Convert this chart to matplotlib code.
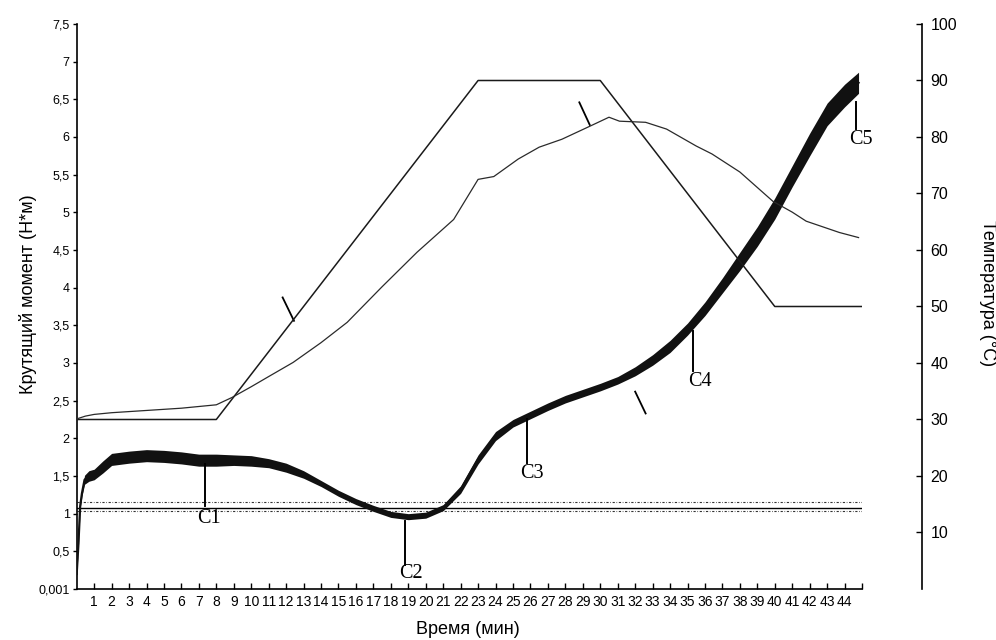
import matplotlib
matplotlib.use('Agg')
import matplotlib.pyplot as plt
import numpy as np

plt.rcParams['font.family'] = ['Liberation Sans', 'DejaVu Sans']

# torque curve (N*m) vs time (min): centre of the noisy trace and its half-width
torque_t = [0.0, 0.1, 0.2, 0.3, 0.45, 0.7, 1.0, 1.5, 2.0, 3.0, 4.0, 5.0, 6.0, 7.0, 8.0,
            9.0, 10.0, 11.0, 12.0, 13.0, 14.0, 15.0, 16.0, 17.0, 18.0, 19.0, 20.0,
            21.0, 22.0, 23.0, 24.0, 25.0, 26.0, 27.0, 28.0, 29.0, 30.0, 31.0, 32.0,
            33.0, 34.0, 35.0, 36.0, 37.0, 38.0, 39.0, 40.0, 41.0, 42.0, 43.0, 44.0, 44.8]
torque = [0.2, 0.6, 1.1, 1.27, 1.45, 1.5, 1.52, 1.62, 1.72, 1.75, 1.77, 1.76, 1.74, 1.71, 1.71,
          1.71, 1.70, 1.67, 1.61, 1.52, 1.40, 1.27, 1.16, 1.07, 0.99, 0.96, 0.98,
          1.08, 1.32, 1.72, 2.03, 2.20, 2.31, 2.42, 2.52, 2.60, 2.68, 2.77, 2.89,
          3.04, 3.22, 3.45, 3.72, 4.03, 4.35, 4.68, 5.05, 5.48, 5.90, 6.30, 6.55, 6.72]
torque_spread = [0.03, 0.03, 0.03, 0.04, 0.06, 0.07, 0.07, 0.08, 0.08, 0.08, 0.08, 0.08, 0.08, 0.08, 0.08,
                 0.07, 0.07, 0.06, 0.06, 0.05, 0.04, 0.04, 0.04, 0.04, 0.04, 0.04, 0.04,
                 0.04, 0.05, 0.06, 0.06, 0.05, 0.05, 0.05, 0.05, 0.05, 0.05, 0.05, 0.06,
                 0.07, 0.08, 0.08, 0.09, 0.10, 0.12, 0.13, 0.14, 0.14, 0.15, 0.15, 0.15, 0.14]

# temperature programme (set point), deg C
setpoint_t = [0, 8, 23, 30, 40, 45]
setpoint = [30, 30, 90, 90, 50, 50]

# measured stock temperature, deg C
temp_t = [0, 0.5, 1, 2, 4, 6, 8, 8.9, 10, 11, 12.4, 14, 15.5, 17.5, 19.5, 21.6, 23.0,
          23.9, 25.3, 26.5, 27.8, 29.4, 30.5, 31.1, 32.6, 33.8, 35.5, 36.4, 38.0,
          39.9, 41.0, 41.8, 43.7, 44.8]
temp = [30.1, 30.6, 30.9, 31.2, 31.6, 32.0, 32.6, 33.9, 35.8, 37.6, 40.1, 43.6, 47.2,
        53.5, 59.6, 65.4, 72.5, 73.0, 76.1, 78.2, 79.6, 81.9, 83.5, 82.8, 82.6, 81.4,
        78.4, 77.0, 73.8, 68.6, 66.7, 65.1, 63.1, 62.2]

# reference torque levels
ref_level = 1.08
ref_band = [1.035, 1.15]

# characteristic points: name, time, top/bottom of leader, label position
points = ['C1', 'C2', 'C3', 'C4', 'C5']
point_t = [7.35, 18.83, 25.8, 35.3, 44.67]
lead_top = [1.66, 0.90, 2.25, 3.42, 6.46]
lead_bot = [1.10, 0.32, 1.67, 2.89, 6.10]
label_x = [7.6, 19.15, 26.1, 35.7, 44.95]
label_y = [0.93, 0.20, 1.53, 2.75, 5.97]

# short strokes marking each curve
strokes = [((11.8, 3.87), (12.45, 3.56)),
           ((28.8, 6.46), (29.4, 6.16)),
           ((32.0, 2.62), (32.6, 2.33))]

left_ticks = [0.001, 0.5, 1, 1.5, 2, 2.5, 3, 3.5, 4, 4.5, 5, 5.5, 6, 6.5, 7, 7.5]
left_labels = ['0,001', '0,5', '1', '1,5', '2', '2,5', '3', '3,5', '4', '4,5',
               '5', '5,5', '6', '6,5', '7', '7,5']
right_ticks = [10, 20, 30, 40, 50, 60, 70, 80, 90, 100]
x_ticks = list(range(1, 46))
x_labels = [str(i) for i in range(1, 45)] + ['']

fig = plt.figure(figsize=(9.96, 6.4), dpi=100)
ax = fig.add_axes([0.077, 0.0797, 0.7885, 0.8828])
ax2 = ax.twinx()

tq = np.array(torque)
sp = np.array(torque_spread)
ax.fill_between(torque_t, tq - sp, tq + sp, color='#111111', lw=0, zorder=3)
ax.plot(torque_t, torque, color='#111111', lw=1.6, zorder=3)

ax.axhline(ref_level, color='black', lw=1.0, zorder=2)
for lv in ref_band:
    ax.axhline(lv, color='#333333', lw=0.8, ls=(0, (2, 1.5, 0.6, 1.5)), zorder=2)

ax2.plot(setpoint_t, setpoint, color='#1a1a1a', lw=1.1)
ax2.plot(temp_t, temp, color='#2a2a2a', lw=0.9)

for (x0, y0), (x1, y1) in strokes:
    ax.plot([x0, x1], [y0, y1], color='black', lw=1.3, zorder=4)

for name, t, y0, y1, lx, ly in zip(points, point_t, lead_top, lead_bot, label_x, label_y):
    ax.plot([t, t], [y0, y1], color='black', lw=1.4, zorder=4)
    ax.text(lx, ly, name, ha='center', va='center', fontsize=14.5,
            family=['Liberation Serif', 'DejaVu Serif'], zorder=5)

ax.set_xlim(0, 45)
ax.set_ylim(0, 7.5)
ax2.set_ylim(0, 100)

ax.set_xticks(x_ticks)
ax.set_xticklabels(x_labels)
for lab in ax.get_xticklabels():
    lab.set_family(['Liberation Sans Narrow', 'Liberation Sans'])
ax.tick_params(axis='x', direction='in', length=4, width=1, pad=4, labelsize=10)

ax.set_yticks(left_ticks)
ax.set_yticklabels(left_labels)
ax.tick_params(axis='y', direction='out', length=3, width=1, pad=2, labelsize=9)

ax2.set_yticks(right_ticks)
ax2.tick_params(axis='y', direction='in', length=4, width=1, pad=6, labelsize=11.5)

for s in ['top', 'right']:
    ax.spines[s].set_visible(False)
for s in ['top', 'left', 'bottom']:
    ax2.spines[s].set_visible(False)
ax2.spines['right'].set_position(('outward', 43.2))
for s in ['left', 'bottom']:
    ax.spines[s].set_linewidth(1.2)
ax2.spines['right'].set_linewidth(1.2)

fig.text(0.47, 0.016, 'Время (мин)', ha='center', va='center', fontsize=13)
fig.text(0.028, 0.54, 'Крутящий момент (Н*м)', ha='center', va='center',
         rotation=90, fontsize=13)
fig.text(0.991, 0.542, 'Температура (°C)', ha='center', va='center',
         rotation=270, fontsize=13)

fig.savefig('out.png', dpi=100)
